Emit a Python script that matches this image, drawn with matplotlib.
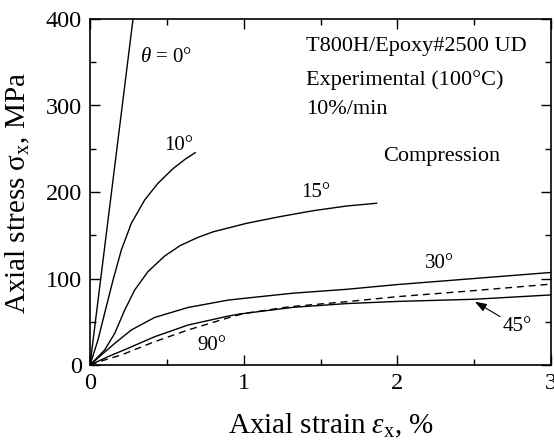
import matplotlib
matplotlib.use("Agg")
import matplotlib.pyplot as plt
from matplotlib.ticker import MultipleLocator

plt.rcParams['font.family'] = ['Liberation Serif', 'DejaVu Serif']
plt.rcParams['mathtext.fontset'] = 'custom'
plt.rcParams['mathtext.rm'] = 'Liberation Serif'
plt.rcParams['mathtext.it'] = 'Liberation Serif:italic'
plt.rcParams['mathtext.bf'] = 'Liberation Serif:bold'

# ---- data (strain %, stress MPa) ----
strain_0 = [0.0, 0.28]
stress_0 = [0.0, 400.0]

strain_10 = [0.0, 0.052, 0.095, 0.150, 0.204, 0.269, 0.356, 0.442, 0.54, 0.62, 0.685]
stress_10 = [0.0, 29.0, 59.7, 98.3, 133.0, 163.8, 190.8, 210.0, 227.0, 238.0, 245.5]

strain_15 = [0.0, 0.095, 0.161, 0.226, 0.291, 0.377, 0.486, 0.586, 0.702, 0.802, 1.019, 1.236, 1.453, 1.67, 1.865]
stress_15 = [0.0, 17.3, 36.6, 63.6, 86.7, 107.9, 126.0, 138.0, 147.5, 154.0, 163.8, 171.5, 178.4, 183.8, 187.0]

strain_30 = [0.0, 0.074, 0.161, 0.269, 0.421, 0.638, 0.898, 1.0, 1.32, 1.67, 2.0, 2.43, 3.0]
stress_30 = [0.0, 11.6, 25.0, 40.5, 55.0, 66.5, 75.0, 77.0, 83.0, 87.5, 93.0, 99.0, 107.0]

strain_45 = [0.0, 0.117, 0.247, 0.421, 0.638, 0.898, 0.976, 1.323, 1.67, 2.0, 2.5, 3.0]
stress_45 = [0.0, 9.6, 19.3, 32.7, 46.2, 56.5, 59.0, 66.7, 71.0, 73.5, 76.0, 81.0]

strain_90 = [0.0, 0.095, 0.204, 0.421, 0.638, 0.898, 1.0, 1.3, 1.67, 2.0, 2.5, 3.0]
stress_90 = [0.0, 5.8, 11.6, 27.0, 40.5, 54.5, 59.5, 67.4, 73.2, 79.0, 86.0, 93.5]

x_ticks = [0, 1, 2, 3]
y_ticks = [0, 100, 200, 300, 400]

fig = plt.figure(figsize=(5.54, 4.44), dpi=100)
ax = fig.add_axes([90/554, 1-365/444, 461/554, 346/444])

lw = 1.0
ax.plot(strain_0, stress_0, color='k', lw=lw)
ax.plot(strain_10, stress_10, color='k', lw=lw)
ax.plot(strain_15, stress_15, color='k', lw=lw)
ax.plot(strain_30, stress_30, color='k', lw=lw)
ax.plot(strain_45, stress_45, color='k', lw=lw)
ax.plot(strain_90, stress_90, color='k', lw=lw, linestyle=(0, (5, 3.5)))

ax.set_xlim(0, 3)
ax.set_ylim(0, 400)
ax.set_xticks(x_ticks)
ax.set_yticks(y_ticks)
ax.xaxis.set_minor_locator(MultipleLocator(0.5))
ax.yaxis.set_minor_locator(MultipleLocator(50))
ax.tick_params(which='both', direction='in', top=True, right=True, labelsize=17.5, width=1.0)
ax.tick_params(which='major', length=7, pad=6)
ax.tick_params(which='minor', length=4.5)
for s in ax.spines.values():
    s.set_linewidth(1.2)

ax.set_xlabel(r'Axial strain $\mathit{\varepsilon}_\mathrm{x}$, %', fontsize=21)
ax.set_ylabel(r'Axial stress σ$_\mathrm{x}$, MPa', fontsize=21)
ax.xaxis.set_label_coords(0.523, -0.135)
ax.yaxis.set_label_coords(-0.125, 0.496)

fs_c = 15
ax.text(0.495, 356, r'$\theta$ = 0°', fontsize=fs_c, ha='center', va='center')
ax.text(0.58, 254, '10°', fontsize=fs_c, ha='center', va='center')
ax.text(1.47, 199, '15°', fontsize=fs_c, ha='center', va='center')
ax.text(2.277, 117.6, '30°', fontsize=fs_c, ha='center', va='center')
ax.text(0.79, 23, '90°', fontsize=fs_c, ha='center', va='center')
ax.text(2.78, 44, '45°', fontsize=fs_c, ha='center', va='center')
ax.annotate('', xy=(2.505, 73.2), xytext=(2.668, 56),
            arrowprops=dict(arrowstyle='-|>,head_length=0.7,head_width=0.25',
                            lw=0.8, color='k', shrinkA=0, shrinkB=0))

fs_t = 16
ax.text(1.405, 368, 'T800H/Epoxy#2500 UD', fontsize=fs_t, ha='left', va='center')
ax.text(1.405, 329.5, 'Experimental (100°C)', fontsize=fs_t, ha='left', va='center')
ax.text(1.405, 295, '10%/min', fontsize=fs_t, ha='left', va='center')
ax.text(1.91, 240.8, 'Compression', fontsize=fs_t, ha='left', va='center')

fig.savefig('out.png', dpi=100)
